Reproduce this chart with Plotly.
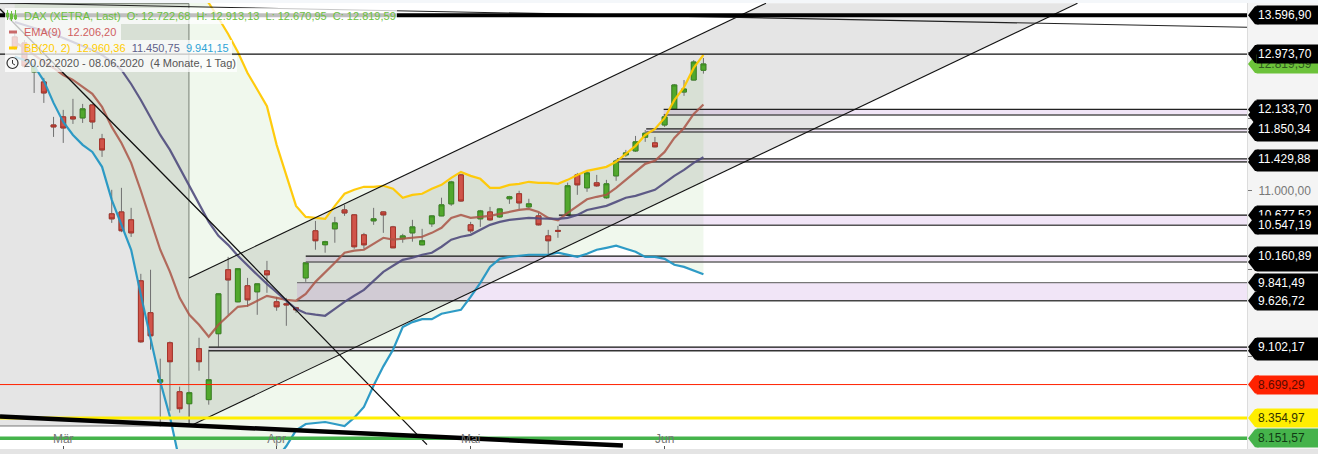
import math
import plotly.graph_objects as go

# ---------- data (prices) ----------
session = list(range(72))
opens = [13245,13150,12697,12544,11908,12025,12025,12010,12200,11709,10694,10719,10617,9862,9489,8725,9150,8624,8500,9085,
         8542,9251,9995,9615,9803,9732,9982,9615,9592,9545,9897,10477,10302,10502,10745,10681,10426,10604,10719,10527,
         10377,10451,10301,10566,10668,10824,11210,10553,10630,10719,10655,10891,10957,10785,10668,10413,10482,10681,11210,11036,
         11103,10904,11197,11485,11540,11733,11653,11908,12142,12392,12573,12722.68]
highs = [13309,13197,12851,12605,12025,12127,12290,12215,12215,11780,11010,11036,10772,9946,9995,8976,9165,8677,8625,9206,
         9074,9715,10152,10015,9897,9830,10103,9673,9661,9557,10085,10603,10352,10655,10811,10690,10451,10772,10725,10540,
         10439,10617,10502,10675,10905,11130,11224,10591,10745,10785,10765,10930,10997,10891,10706,10489,10540,11105,11237,11265,
         11210,11143,11427,11554,11751,11835,11737,12069,12513,12573,12880,12913.13]
lows = [13039,12758,12378,12230,11737,11652,11923,11937,11850,11457,10578,10460,10400,9150,9074,8267,8428,8408,8267,8846,
        8490,9107,9465,9610,9557,9465,9720,9511,9340,9488,9850,10240,10203,10327,10668,10252,10252,10553,10451,10260,
        10327,10340,10295,10527,10665,10798,10850,10451,10527,10604,10642,10824,10758,10772,10545,10178,10389,10675,10943,10983,
        11050,10891,11130,11457,11526,11667,11590,11880,12135,12335,12570,12670.95]
closes = [13070,12789,12774,12378,11880,11865,11995,12142,11952,11554,10630,10478,10451,9161,9228,8750,8943,8449,8614,8943,
          8750,9708,9873,10007,9638,9826,9934,9557,9580,9522,10079,10352,10340,10578,10706,10277,10301,10630,10681,10264,
          10413,10527,10352,10668,10811,11115,10862,10477,10732,10617,10758,10917,10837,10824,10553,10352,10472,11064,11076,11237,
          11063,11090,11400,11512,11667,11790,11597,12025,12498,12437,12850,12819.59]

ema9 = [13164,13070,12960,12851,12758,12650,12575,12469,12364,12171,11880,11652,11374,10997,10617,10240,9970,9661,9466,9352,
        9218,9352,9454,9557,9569,9627,9685,9661,9638,9627,9708,9850,9958,10079,10203,10228,10240,10315,10389,10365,
        10377,10389,10402,10451,10515,10642,10681,10642,10655,10668,10694,10719,10745,10758,10719,10642,10611,10706,10798,10884,
        10917,10943,11036,11143,11251,11361,11403,11526,11723,11865,12069,12206.20]
bb_upper = [14044,13998,13991,14124,14356,14504,14563,14579,14554,14600,14825,14903,14786,14852,14836,14800,14740,14687,14371,14009,
            13801,13553,13293,13006,12681,12430,12182,11625,11197,10798,10655,10642,10630,10798,10957,11010,11050,11050,11063,11023,
            10904,10943,10957,11023,11076,11170,11251,11197,11157,11036,11036,11076,11090,11117,11103,11103,11090,11143,11210,11265,
            11292,11320,11389,11498,11611,11765,11850,12010,12270,12466,12758,12960.36]
bb_mid = [13487,13439,13390,13342,13293,13228,13164,13102,13040,12960,12851,12728,12513,12274,12010,11765,11554,11306,11063,10811,
          10591,10413,10301,10165,10043,9934,9826,9720,9627,9534,9483,9466,9454,9534,9615,9685,9755,9862,9970,10043,
          10116,10141,10178,10203,10277,10365,10402,10426,10489,10553,10591,10617,10630,10642,10636,10630,10630,10642,10681,10745,
          10772,10798,10850,10904,10930,10970,11010,11103,11197,11279,11375,11450.75]
bb_lower = [12930,12880,12789,12560,12230,11952,11765,11625,11526,11320,10877,10553,10240,9696,9184,8730,8368,7925,7755,7613,
            7522,7477,7432,7432,7522,7660,7805,7955,8076,8230,8294,8304,8314,8294,8274,8358,8467,8690,8893,9074,
            9325,9382,9416,9416,9477,9500,9522,9673,9838,10030,10128,10152,10165,10178,10178,10178,10203,10178,10152,10190,
            10240,10264,10290,10252,10215,10152,10152,10128,10055,10030,9982,9941.15]

tick_sessions = [5, 27, 47, 67]
tick_months = ["Mär", "Apr", "Mai", "Jun"]
price_ticks = [9000, 10000, 11000, 12000, 13000]
price_tick_labels = ["", "", "11.000,00", "", ""]

left_box_x = [-4, 17.96, 17.96, -4]
left_box_y = [13790, 13790, 8274, 8274]

channel_upper_x = [17.96, 77.45]
channel_upper_y = [9897, 13796]
channel_lower_x = [18.07, 109.56]
channel_lower_y = [8274, 13796]

fall_x = [-1.52, 20.4, 42.5]
fall_y = [13700, 10560, 8090]
support_x = [-1.52, 62.7]
support_y = [8370, 8080]
resist_x = [-1.52, 127.04]
resist_y = [13801, 13401]

# start session, upper price, lower price, upper line colour, lower line colour
zones = [
    (66.9, 12133.70, 12053, "#222222", "#555555"),
    (65.1, 11850.34, 11808, "#222222", "#555555"),
    (62.1, 11429.88, 11388, "#222222", "#555555"),
    (56.1, 10677.52, 10547.19, "#111111", "#555555"),
    (30.0, 10160.89, 10090, "#111111", "#666666"),
    (29.1, 9841.49, 9626.72, "#777777", "#444444"),
    (20.0, 9102.17, 9063, "#111111", "#333333"),
]
level_13597 = 13596.90
level_12974 = 12973.70
level_red = 8699.29
level_yellow = 8354.97
level_green = 8151.57

# tags whose text is empty are almost fully covered by a neighbour in the picture
tags = [
    (12819.59, "12.819,59", "#6cc23a", "#2f5a1e"),
    (13596.90, "13.596,90", "#000000", "#ffffff"),
    (12973.70, "12.973,70", "#000000", "#ffffff"),
    (12053, "", "#000000", "#ffffff"),
    (12133.70, "12.133,70", "#000000", "#ffffff"),
    (11808, "", "#000000", "#ffffff"),
    (11850.34, "11.850,34", "#000000", "#ffffff"),
    (11388, "", "#000000", "#ffffff"),
    (11429.88, "11.429,88", "#000000", "#ffffff"),
    (10677.52, "10.677,52", "#000000", "#ffffff"),
    (10547.19, "10.547,19", "#000000", "#ffffff"),
    (10090, "", "#000000", "#ffffff"),
    (10160.89, "10.160,89", "#000000", "#ffffff"),
    (9841.49, "9.841,49", "#000000", "#ffffff"),
    (9626.72, "9.626,72", "#000000", "#ffffff"),
    (9063, "", "#000000", "#ffffff"),
    (9102.17, "9.102,17", "#000000", "#ffffff"),
    (8699.29, "8.699,29", "#ff2200", "#5a0a00"),
    (8354.97, "8.354,97", "#ffee00", "#333300"),
    (8151.57, "8.151,57", "#45b34b", "#103a14"),
]

# ---------- layout helpers ----------
W, H = 1318, 454
PL, PR, PT, PB = 0, 1247, 3, 449
X_RANGE = [-1.52, 127.04]
LOG_RANGE = [3.90563, 4.13990]


def px(x):
    return x / (PR - PL)


def py(y):
    return 1 - (y - PT) / (PB - PT)


def frac(price):
    return (math.log10(price) - LOG_RANGE[0]) / (LOG_RANGE[1] - LOG_RANGE[0])


GREEN_BODY, GREEN_EDGE = "#52a82d", "#3a8a20"
RED_BODY, RED_EDGE = "#d0544a", "#a8342a"
XL, XR = X_RANGE

fig = go.Figure()
shapes = []
ann = []


def line(x, y, color, width, **kw):
    fig.add_trace(go.Scatter(x=x, y=y, mode="lines", line=dict(color=color, width=width),
                             hoverinfo="skip", showlegend=False, **kw))


def under(x, y, fill, color=None, width=0):
    """Polygon on the data axes, below the candles (box traces sit under every scatter trace)."""
    path = "M " + " L ".join(f"{a},{b}" for a, b in zip(x, y)) + " Z"
    shapes.append(dict(type="path", xref="x", yref="y", path=path, fillcolor=fill, layer="below",
                       line=dict(color=color or "rgba(0,0,0,0)", width=width)))


# grey boxes
under(left_box_x, left_box_y, "#e5e5e5", "#777777", 1)
under(channel_upper_x + channel_lower_x[::-1], channel_upper_y + channel_lower_y[::-1], "#e5e5e5")

# Bollinger fill
under(session + session[::-1], bb_upper + bb_lower[::-1], "rgba(120,190,90,0.11)")

# zones
for start, top, bottom, c_top, c_bot in zones:
    under([start, XR, XR, start], [top, top, bottom, bottom], "rgba(180,110,210,0.18)")

# wicks and bodies
fig.add_trace(go.Candlestick(x=session, open=opens, high=highs, low=lows, close=closes,
                             increasing=dict(line=dict(color="#707070", width=1), fillcolor="#707070"),
                             decreasing=dict(line=dict(color="#707070", width=1), fillcolor="#707070"),
                             showlegend=False, hoverinfo="skip"))
fig.add_trace(go.Candlestick(x=session, open=opens, close=closes,
                             high=[max(a, b) for a, b in zip(opens, closes)],
                             low=[min(a, b) for a, b in zip(opens, closes)],
                             increasing=dict(line=dict(color=GREEN_EDGE, width=1), fillcolor=GREEN_BODY),
                             decreasing=dict(line=dict(color=RED_EDGE, width=1), fillcolor=RED_BODY),
                             showlegend=False))

# zone borders
for start, top, bottom, c_top, c_bot in zones:
    line([start, XR], [top, top], c_top, 1.3)
    line([start, XR], [bottom, bottom], c_bot, 1.6)

# indicators
line(session, ema9, "rgba(170,85,70,0.85)", 2.2)
line(session, bb_mid, "rgba(80,75,125,0.9)", 2.2)
line(session, bb_upper, "rgba(255,200,0,0.95)", 2.2)
line(session, bb_lower, "rgba(35,150,195,0.95)", 2.2)

# trend lines
line(channel_upper_x, channel_upper_y, "#111111", 1.1)
line(channel_lower_x, channel_lower_y, "#111111", 1.1)
line(fall_x, fall_y, "#111111", 1.3)
line(resist_x, resist_y, "#222222", 1.1)
line([XL, XR], [level_12974, level_12974], "#111111", 1.1)
line([XL, XR], [level_red, level_red], "#ff2200", 1)
line([XL, XR], [level_yellow, level_yellow], "#ffee00", 3)
line([XL, XR], [level_green, level_green], "#45b34b", 3.5)
line([XL, XR], [level_13597, level_13597], "#000000", 4)
line(support_x, support_y, "#000000", 4.5)

# frame strips
shapes.append(dict(type="rect", xref="paper", yref="paper", x0=px(0), x1=px(W), y0=py(449), y1=py(H),
                   fillcolor="#e4e4e4", line_width=0, layer="above"))
shapes.append(dict(type="rect", xref="paper", yref="paper", x0=px(0), x1=px(W), y0=py(0), y1=py(3),
                   fillcolor="#f4f7fa", line_width=0, layer="above"))

# price tags
for price, text, bg, fg in tags:
    shapes.append(dict(type="path", xref="paper", yref="paper", xsizemode="pixel", ysizemode="pixel",
                       xanchor=1.0, yanchor=frac(price),
                       path="M 1,0 L 8,9 L 12,9 L 12,-9 L 8,-9 Z",
                       fillcolor=bg, line_width=0, layer="above"))
    ann.append(dict(xref="paper", yref="y", x=px(1256), y=math.log10(price), xanchor="left", yanchor="middle",
                    text=text or "\u00a0", showarrow=False, align="left", width=60, height=16, borderpad=1, bgcolor=bg,
                    font=dict(family="Liberation Sans, Arial", size=12, color=fg)))

# legend panels
for x1, y0, y1 in [(397, 8, 24), (121, 24, 40), (232, 40, 56), (237, 56, 72)]:
    shapes.append(dict(type="rect", xref="paper", yref="paper", x0=px(5), x1=px(x1), y0=py(y1), y1=py(y0),
                       fillcolor="rgba(255,255,255,0.75)", line_width=0, layer="above"))

NB = "\u00a0\u00a0"
LG = "#6cc040"
legend_rows = [
    (15.5, f'<span style="color:{LG}">DAX (XETRA, Last){NB}O: 12.722,68{NB}H: 12.913,13{NB}L: 12.670,95{NB}C: 12.819,59</span>'),
    (31.5, '<span style="color:#d0605f">EMA(9)' + NB + '12.206,20</span>'),
    (47.5, '<span style="color:#ffcc00">BB(20, 2)' + NB + '12.960,36</span>' + NB
           + '<span style="color:#5f5f8a">11.450,75</span>' + NB + '<span style="color:#2ea3d6">9.941,15</span>'),
    (63.0, '<span style="color:#555555">20.02.2020 - 08.06.2020' + NB + '(4 Monate, 1 Tag)</span>'),
]
for y, text in legend_rows:
    ann.append(dict(xref="paper", yref="paper", x=px(21.5), y=py(y), xanchor="left", yanchor="middle",
                    text=text, showarrow=False, font=dict(family="Liberation Sans, Arial", size=11)))

# legend icons
for x, y0, y1, b0, b1 in [(7.5, 10, 20, 13, 17), (11.5, 11, 21, 14, 19), (15.5, 10, 20, 15, 19)]:
    shapes.append(dict(type="line", xref="paper", yref="paper", x0=px(x), x1=px(x), y0=py(y0), y1=py(y1),
                       line=dict(color=LG, width=1), layer="above"))
    shapes.append(dict(type="rect", xref="paper", yref="paper", x0=px(x - 1), x1=px(x + 1), y0=py(b1), y1=py(b0),
                       line=dict(color=LG, width=1), fillcolor="rgba(255,255,255,0)", layer="above"))
for y, c in [(32, "#c96a6a"), (48, "#ffcc00")]:
    shapes.append(dict(type="rect", xref="paper", yref="paper", x0=px(9), x1=px(17), y0=py(y + 1.5), y1=py(y - 1.5),
                       fillcolor=c, line_width=0, layer="above"))
shapes.append(dict(type="circle", xref="paper", yref="paper", x0=px(7), x1=px(18), y0=py(68.5), y1=py(57.5),
                   line=dict(color="#333333", width=1.2), layer="above"))
shapes.append(dict(type="path", xref="paper", yref="paper",
                   path=f"M {px(12.5)},{py(60)} L {px(12.5)},{py(63.5)} L {px(15)},{py(65)}",
                   line=dict(color="#333333", width=1), layer="above"))

fig.update_layout(
    width=W, height=H, autosize=False,
    margin=dict(l=PL, r=W - PR, t=PT, b=H - PB, pad=0),
    paper_bgcolor="#f4f4f4", plot_bgcolor="#ffffff",
    showlegend=False, boxmode="overlay", boxgap=0.5, boxgroupgap=0, shapes=shapes, annotations=ann,
    font=dict(family="Liberation Sans, Arial", size=12, color="#777777"),
    xaxis=dict(type="linear", range=X_RANGE, rangeslider=dict(visible=False), showgrid=False, zeroline=False,
               tickmode="array", tickvals=tick_sessions, ticktext=tick_months, ticks="inside", ticklen=3,
               tickcolor="#555555", ticklabelposition="inside", tickfont=dict(size=12, color="#777777"),
               showline=False),
    yaxis=dict(type="log", range=LOG_RANGE, side="right", showgrid=False, zeroline=False,
               tickmode="array", tickvals=price_ticks, ticktext=price_tick_labels, ticks="outside", ticklen=4,
               tickcolor="#777777", tickfont=dict(size=12, color="#777777"), ticklabelstandoff=4,
               showline=True, linecolor="#dcdcdc", linewidth=1),
)

fig.write_html("out.html", config=dict(displayModeBar=False, responsive=False),
               post_script="document.body.style.margin='0';document.body.style.overflow='hidden';")
